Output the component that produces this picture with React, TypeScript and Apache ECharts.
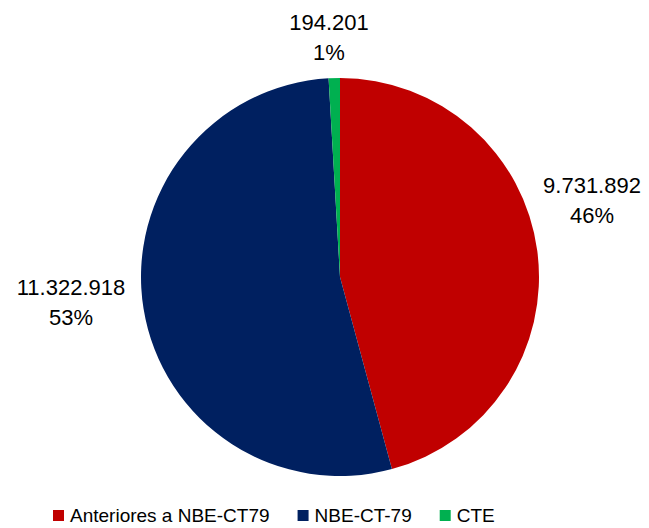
import React, { useEffect, useRef } from "react";
import * as echarts from "echarts";

const categories = ["Anteriores a NBE-CT79", "NBE-CT-79", "CTE"];
const values = [9731892, 11322918, 194201];
const percentLabels = ["46%", "53%", "1%"];
const colors = ["#C00000", "#002060", "#00B050"];
const labelPos = [
  [592, 200],
  [71, 302],
  [329, 37],
];

function fmt(n: number): string {
  return String(n).replace(/\B(?=(\d{3})+(?!\d))/g, ".");
}

export default function App() {
  const ref = useRef<HTMLDivElement>(null);
  useEffect(() => {
    if (!ref.current) return;
    const chart = echarts.init(ref.current, null, { renderer: "svg" });
    chart.setOption({
      animation: false,
      backgroundColor: "#ffffff",
      legend: {
        left: 53,
        top: 506,
        padding: 0,
        itemWidth: 11,
        itemHeight: 11,
        itemGap: 28,
        icon: "rect",
        data: categories,
        textStyle: {
          fontFamily: "Liberation Sans, Arial, sans-serif",
          fontSize: 19,
          color: "#000",
          padding: [0, 0, 0, 1],
        },
      },
      series: [
        {
          type: "pie",
          center: [340, 277],
          radius: 199,
          startAngle: 90,
          clockwise: true,
          label: {
            show: true,
            position: "outside",
            formatter: (p: any) => fmt(values[p.dataIndex]) + "\n" + percentLabels[p.dataIndex],
            fontFamily: "Liberation Sans, Arial, sans-serif",
            fontSize: 22,
            lineHeight: 30,
            color: "#000",
            align: "center",
            overflow: "none",
            edgeDistance: 0,
          },
          labelLine: { show: false },
          labelLayout: (params: any) => ({
            x: labelPos[params.dataIndex][0],
            y: labelPos[params.dataIndex][1],
            align: "center",
            verticalAlign: "middle",
          }),
          emphasis: { disabled: true },
          data: categories.map((c, i) => ({
            name: c,
            value: values[i],
            itemStyle: { color: colors[i] },
          })),
        },
      ],
    });
    return () => chart.dispose();
  }, []);
  return (
    <div
      ref={ref}
      style={{ position: "fixed", left: 0, top: 0, width: 649, height: 528 }}
    />
  );
}
